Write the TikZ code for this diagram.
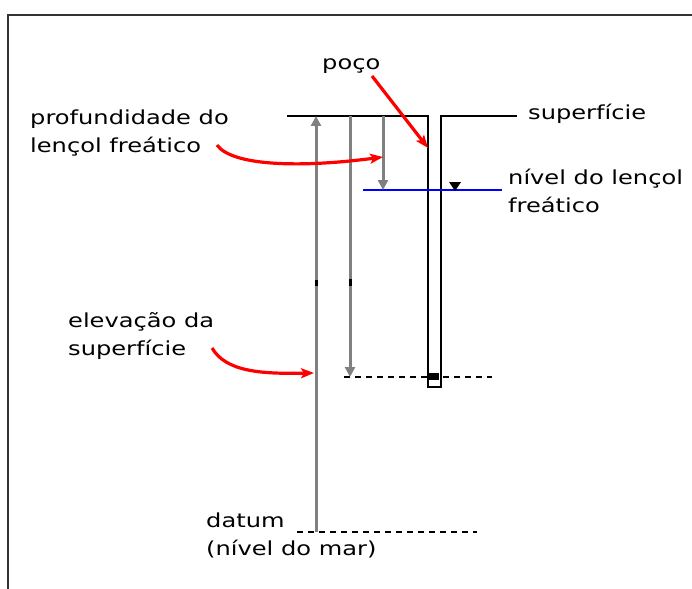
\documentclass[tikz,border=0pt]{standalone}
\usepackage{fontspec}
\setmainfont{DejaVu Sans}[FakeStretch=1.25]
\usetikzlibrary{arrows.meta,positioning}
\definecolor{wellgray}{HTML}{808080}
\definecolor{wellred}{HTML}{FF0000}
\definecolor{wellblue}{HTML}{0000FF}

\begin{document}
\begin{tikzpicture}[
    x=1pt, y=-1pt,
    lbl/.style={anchor=base west, inner sep=0pt, align=left,
      font=\fontsize{19.3}{28}\selectfont},
    ground/.style={line width=2.8pt, black},
    dashline/.style={line width=2.4pt, black, dash pattern=on 6pt off 5pt},
    grayarrow/.style={-{Triangle[length=10pt, width=10pt]}, line width=3pt, wellgray},
    redarrow/.style={-{Stealth[length=13pt, width=10pt, inset=3pt]}, line width=3.2pt, wellred}
  ]
  \useasboundingbox (0,0) rectangle (692,588);
  \clip (0,0) rectangle (692,588);
  \draw[line width=1.8pt, black!80] (8,600) -- (8,15) -- (700,15);

  % ground surface and well
  \coordinate (surfL) at (287,116);
  \coordinate (wellL) at (428,116);
  \coordinate (wellR) at (441,116);
  \coordinate (wellBot) at (441,387);
  \coordinate (surfR) at (517,116);
  \draw[ground] (surfL) -- (wellL) |- (wellBot) -- (wellR) -- (surfR);
  \fill (429,373) rectangle (439,380);

  % water table
  \coordinate (wtL) at (363,190);
  \coordinate (wtR) at (502,190);
  \draw[line width=2.8pt, wellblue] (wtL) -- (wtR);
  \fill (449,182) -- (461,182) -- (455,191) -- cycle;

  % reference levels
  \coordinate (lvlL) at (344,377);
  \coordinate (lvlR) at (492,377);
  \coordinate (datL) at (297,532);
  \coordinate (datR) at (477,532);
  \draw[dashline] (lvlL) -- (lvlR);
  \draw[dashline] (datL) -- (datR);

  % measured distances
  \coordinate (elevBot) at (316,532);
  \coordinate (elevTop) at (316,116);
  \coordinate (wellTop) at (350,116);
  \coordinate (wellLvl) at (350,377);
  \coordinate (depTop) at (383,116);
  \coordinate (depBot) at (383,190);
  \draw[grayarrow] (elevBot) -- (elevTop);
  \draw[grayarrow] (wellTop) -- (wellLvl);
  \draw[grayarrow] (depTop) -- (depBot);
  \draw[line width=3pt] (316,280) -- (316,286);
  \draw[line width=3pt] (350,279) -- (350,286);

  \node[lbl] (poco) at (322,70) {poço};
  \node[lbl] (prof) at (30,153) {profundidade do\\lençol freático};
  \node[lbl] (surf) at (528,120) {superfície};
  \node[lbl] (nivel) at (508,212) {nível do lençol\\freático};
  \node[lbl] (elev) at (68,355) {elevação da\\superfície};
  \node[lbl] (datum) at (206,555) {datum\\(nível do mar)};

  % pointers
  \coordinate (pocoTail) at (372,76);
  \coordinate (pocoTip) at (428,148);
  \coordinate (profTail) at (217,145);
  \coordinate (profTip) at (383,157);
  \coordinate (elevTail) at (212,348);
  \coordinate (elevTip) at (314,373);
  \draw[redarrow] (pocoTail) -- (pocoTip);
  \draw[redarrow] (profTail) .. controls (232,166) and (300,168) .. (profTip);
  \draw[redarrow] (elevTail) .. controls (226,372) and (262,374) .. (elevTip);
\end{tikzpicture}
\end{document}
